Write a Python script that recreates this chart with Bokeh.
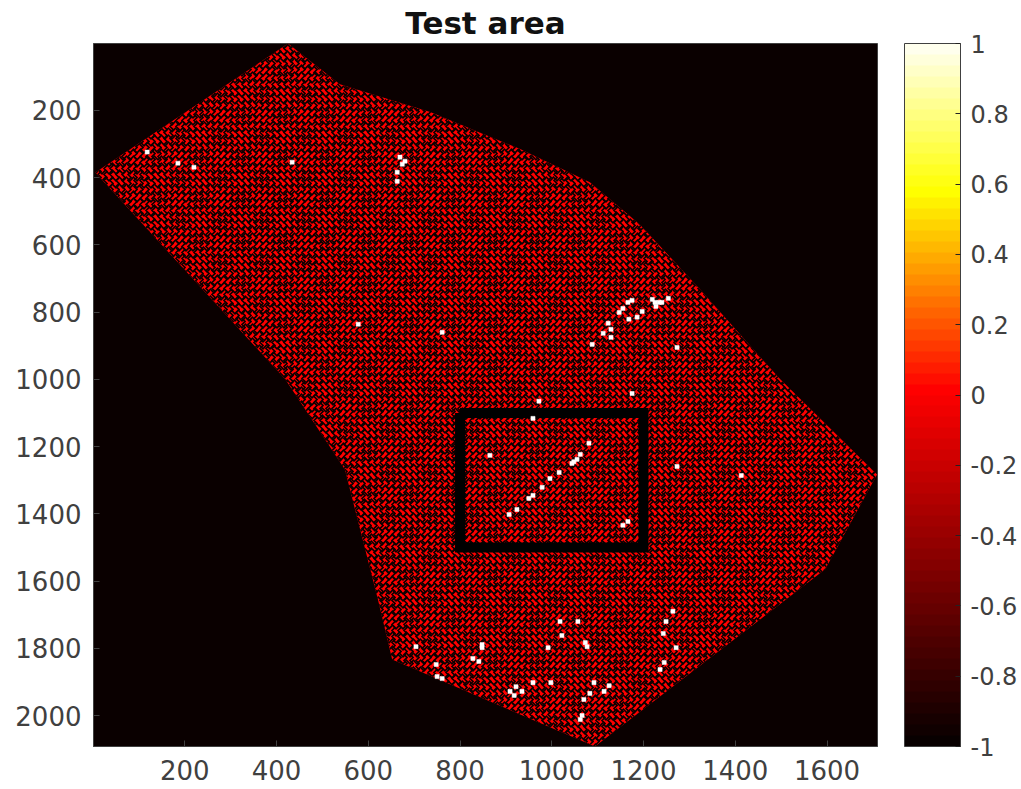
from bokeh.plotting import figure
from bokeh.models import Range1d, LinearColorMapper, ColorBar, FixedTicker
from bokeh.embed import file_html
from bokeh.resources import INLINE

title = "Test area"
x_limits = [1, 1710]
y_limits = [2092, 1]
x_ticks = [200, 400, 600, 800, 1000, 1200, 1400, 1600]
y_ticks = [200, 400, 600, 800, 1000, 1200, 1400, 1600, 1800, 2000]
bar_ticks = [-1, -0.8, -0.6, -0.4, -0.2, 0, 0.2, 0.4, 0.6, 0.8, 1]
bar_labels = {-1: "-1", -0.8: "-0.8", -0.6: "-0.6", -0.4: "-0.4", -0.2: "-0.2", 0: "0",
              0.2: "0.2", 0.4: "0.4", 0.6: "0.6", 0.8: "0.8", 1: "1"}

# outline of the valid area, in image coordinates
area_x = [425, 538, 735, 931, 1083, 1192, 1323, 1498, 1709, 1596, 1094, 652, 621, 549, 419, 5]
area_y = [1, 122, 205, 315, 414, 539, 732, 1000, 1283, 1565, 2092, 1833, 1655, 1268, 1000, 385]

# test rectangle
box_x = [800, 1200, 1200, 800, 800]
box_y = [1100, 1100, 1500, 1500, 1100]

# bright cells, value about 1
bright_x = [1081, 1062, 1055, 1048, 1044, 1016, 996, 979, 959, 950, 924, 907, 865, 959, 972, 1175, 1155, 1166,
            848, 848, 992, 1018, 1057, 1022, 1073, 1077, 1264, 1249, 1243, 1271, 1245, 1236, 704, 748, 750,
            761, 828, 841, 922, 909, 918, 935, 959, 998, 1092, 1114, 1125, 1083, 1070, 1066, 1062,
            1219, 1225, 1227, 1234, 1240, 1175, 1166, 1155, 1254, 1197, 1147, 1168, 1186, 1123, 1129, 1112, 1129, 1088,
            1273, 118, 185, 220, 434, 680, 674, 663, 663, 1273, 1413, 669, 578, 761]
bright_y = [1190, 1223, 1238, 1245, 1250, 1277, 1295, 1321, 1345, 1354, 1387, 1402, 1226, 1116, 1065, 1042, 1434, 1423,
            1789, 1798, 1798, 1720, 1720, 1762, 1783, 1795, 1690, 1720, 1756, 1798, 1842, 1863, 1795, 1848, 1884,
            1890, 1830, 1839, 1914, 1928, 1940, 1928, 1902, 1902, 1902, 1928, 1911, 1934, 1952, 2000, 2012,
            762, 771, 783, 771, 771, 765, 771, 789, 759, 798, 801, 821, 815, 833, 851, 863, 875, 896,
            905, 324, 357, 369, 354, 351, 360, 384, 411, 1259, 1286, 339, 836, 860]

# colormap anchors: black at -1, red at 0, yellow at 0.55, white at 1
def ramp(a, b, n):
    return [tuple(round(a[i] + (b[i] - a[i]) * k / n) for i in range(3)) for k in range(n)]

levels = ramp((8, 0, 0), (255, 0, 0), 32) + ramp((255, 0, 0), (255, 255, 0), 18) + ramp((255, 255, 0), (255, 255, 255), 14)
palette = ["#%02x%02x%02x" % c for c in levels]

TEXT = "#404040"
BLACK = "#0a0000"

p = figure(frame_width=784, frame_height=703, output_backend="svg", toolbar_location=None,
           x_range=Range1d(*x_limits), y_range=Range1d(*y_limits),
           min_border_left=93, min_border_top=0, min_border_right=144, min_border_bottom=42,
           background_fill_color=BLACK, border_fill_color="white", outline_line_color="#404040",
           title=title)
p.title.align = "center"
p.title.offset = -2
p.title.text_font = "DejaVu Sans"
p.title.text_font_size = "31px"
p.title.text_font_style = "bold"
p.title.text_color = "#111111"
p.title.text_line_height = 1.5
p.title.standoff = 5
p.grid.visible = False

for ax, ticks, standoff in ((p.xaxis[0], x_ticks, 13), (p.yaxis[0], y_ticks, 12)):
    ax.ticker = FixedTicker(ticks=ticks)
    ax.major_label_text_font = "DejaVu Sans"
    ax.major_label_text_font_size = "26px"
    ax.major_label_text_color = TEXT
    ax.axis_line_color = TEXT
    ax.major_tick_line_color = TEXT
    ax.major_tick_in = 6
    ax.major_tick_out = 0
    ax.minor_tick_line_color = None
    ax.major_label_standoff = standoff

p.patch(area_x, area_y, fill_color="#ff0000", line_color=None,
        hatch_pattern="vertical_wave", hatch_color=BLACK, hatch_scale=6, hatch_weight=1.6)
p.patch(area_x, area_y, fill_color=None, line_color=None,
        hatch_pattern="horizontal_wave", hatch_color=BLACK, hatch_scale=7, hatch_weight=1.6)
p.line(box_x, box_y, line_color="#000000", line_width=10, line_join="miter")
p.rect(bright_x, bright_y, width=9, height=12, fill_color="#ffffff", line_color="#ffffff", line_width=0.5)

mapper = LinearColorMapper(palette=palette, low=-1, high=1)
bar = ColorBar(color_mapper=mapper, ticker=FixedTicker(ticks=bar_ticks), major_label_overrides=bar_labels,
               width=56, height=703, margin=0, padding=0, location=(27, 0),
               major_label_text_font="DejaVu Sans", major_label_text_font_size="24px",
               major_label_text_color=TEXT, bar_line_color=TEXT, major_tick_line_color="#222222",
               major_tick_in=5, major_tick_out=0, minor_tick_line_color=None, label_standoff=10,
               border_line_color=None, background_fill_color=None)
p.add_layout(bar, "right")

open("out.html", "w").write(file_html(p, INLINE))
